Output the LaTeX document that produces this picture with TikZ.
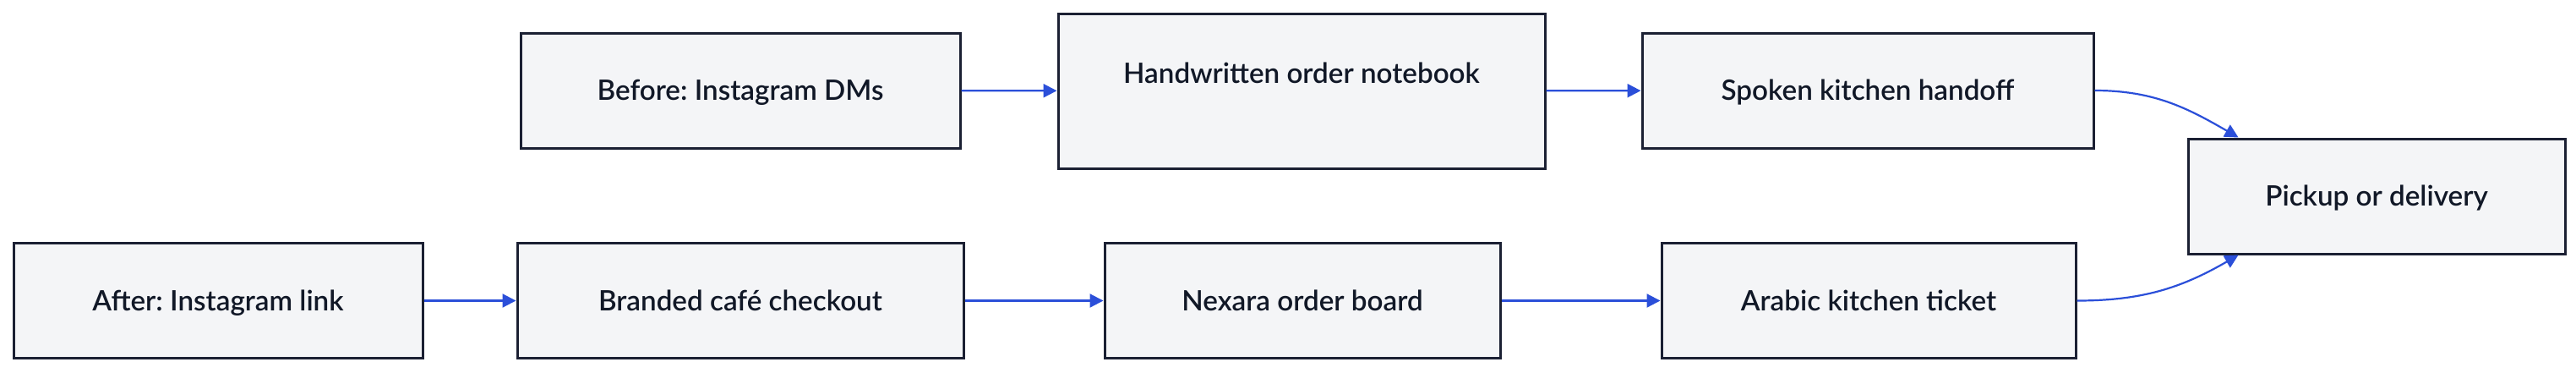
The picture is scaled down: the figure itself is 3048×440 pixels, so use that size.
\documentclass[tikz,border=0pt]{standalone}
\usepackage{fontspec}
\setmainfont{Lato Semibold}
\usetikzlibrary{arrows.meta,calc}
\definecolor{boxfill}{HTML}{F4F5F7}
\definecolor{boxline}{HTML}{1B2033}
\definecolor{flow}{HTML}{2B4FD9}
\definecolor{ink}{HTML}{111827}
\frenchspacing

\begin{document}
\begin{tikzpicture}[x=0.5pt, y=-0.5pt,
    nodes = {font=\fontsize{16.6pt}{19pt}\selectfont, text=ink},
    stage/.style = {draw=boxline, fill=boxfill, line width=1.5pt,
      minimum height=68pt, inner sep=0pt, text height=11.5pt, text depth=0pt},
    flowline/.style = {draw=flow, line width=1.1pt,
      -{Triangle[length=8pt, width=8pt]}}]
\useasboundingbox (0,0) rectangle (3048,440);
% top row: before
\node[stage, minimum width=260pt] (before) at (876,107) {Before: Instagram DMs};
  \node[stage, minimum width=288pt, minimum height=91.5pt, text depth=21pt]
    (notebook) at (1540,107.5) {Handwritten order notebook};
  \node[stage, minimum width=267pt] (spoken) at (2210,107) {Spoken kitchen handoff};
  % bottom row: after
  \node[stage, minimum width=242pt] (after) at (258,355.5) {After: Instagram link};
  \node[stage, minimum width=264pt] (branded) at (876,355.5) {Branded café checkout};
  \node[stage, minimum width=234pt] (board) at (1541,355.5) {Nexara order board};
  \node[stage, minimum width=245pt] (ticket) at (2211,355.5) {Arabic kitchen ticket};
  % shared end
  \node[stage, minimum width=223pt] (pickup) at (2812,232) {Pickup or delivery};
  \foreach \from/\to in {before/notebook, notebook/spoken,
      after/branded, branded/board, board/ticket} {
    \draw[flowline] (\from) -- (\to);
  };
  \coordinate (intop) at ($(pickup.north west)+(61,0)$);
  \coordinate (inbot) at ($(pickup.south west)+(61,0)$);
  \draw[flowline] (spoken.east) to[out=0, in=150] (intop);
  \draw[flowline] (ticket.east) to[out=0, in=210] (inbot);
\end{tikzpicture}
\end{document}
